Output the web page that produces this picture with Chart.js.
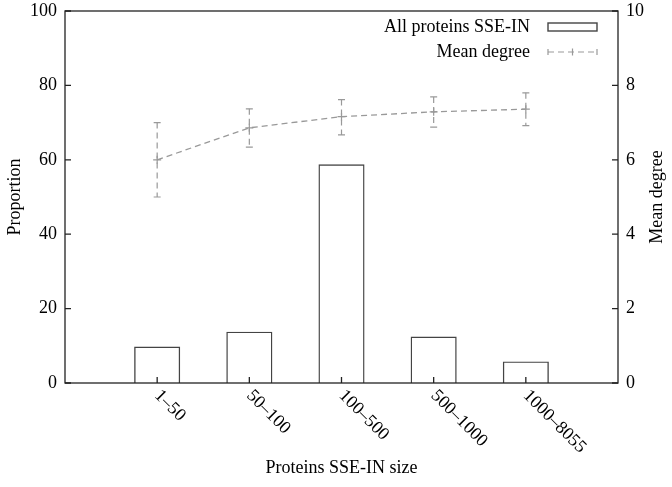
<!DOCTYPE html>
<html>
<head>
<meta charset="utf-8">
<script src="https://cdn.jsdelivr.net/npm/chart.js@4"></script>
<style>
  html, body { margin: 0; padding: 0; background: #fff; }
</style>
</head>
<body>
<canvas id="chart" width="672" height="487"></canvas>
<script>
const categories = ["1\u201350", "50\u2013100", "100\u2013500", "500\u20131000", "1000\u20138055"];
const proportion = [9.8, 13.8, 58.8, 12.5, 5.8];
const meanDegree = [6.0, 6.86, 7.16, 7.29, 7.36];
const degreeHigh = [7.0, 7.37, 7.62, 7.69, 7.80];
const degreeLow = [5.0, 6.34, 6.67, 6.88, 6.92];
const leftTicks = [0, 20, 40, 60, 80, 100];
const rightTicks = [0, 2, 4, 6, 8, 10];

const FONT = "Liberation Serif, Times New Roman, serif";
const AXIS = "#222";
const GREY = "#999";

// empty slots on both ends so the bars sit one step in from the frame
const labels = ["", ...categories, ""];
const pad = (arr) => [null, ...arr, null];

const extras = {
  id: "extras",
  afterDatasetsDraw(chart) {
    const ctx = chart.ctx;
    const a = chart.chartArea;
    const x = chart.scales.x;
    const yR = chart.scales.y2;
    const yL = chart.scales.y;

    ctx.save();
    // frame
    ctx.strokeStyle = AXIS;
    ctx.lineWidth = 1.3;
    ctx.strokeRect(a.left, a.top, a.right - a.left, a.bottom - a.top);

    // inward ticks
    ctx.beginPath();
    leftTicks.forEach(v => {
      const py = yL.getPixelForValue(v);
      ctx.moveTo(a.left, py); ctx.lineTo(a.left + 6, py);
    });
    rightTicks.forEach(v => {
      const py = yR.getPixelForValue(v);
      ctx.moveTo(a.right, py); ctx.lineTo(a.right - 6, py);
    });
    categories.forEach((c, i) => {
      const px = x.getPixelForValue(i + 1);
      ctx.moveTo(px, a.bottom); ctx.lineTo(px, a.bottom - 6);
    });
    ctx.stroke();

    // error bars
    ctx.strokeStyle = GREY;
    ctx.lineWidth = 1.2;
    meanDegree.forEach((m, i) => {
      const px = x.getPixelForValue(i + 1);
      const top = yR.getPixelForValue(degreeHigh[i]);
      const bot = yR.getPixelForValue(degreeLow[i]);
      ctx.setLineDash([6, 4]);
      ctx.beginPath();
      ctx.moveTo(px, top); ctx.lineTo(px, bot);
      ctx.stroke();
      ctx.setLineDash([]);
      ctx.beginPath();
      ctx.moveTo(px - 3.5, top); ctx.lineTo(px + 3.5, top);
      ctx.moveTo(px - 3.5, bot); ctx.lineTo(px + 3.5, bot);
      ctx.stroke();
    });

    // x tick labels, rotated clockwise
    ctx.fillStyle = "#000";
    ctx.font = "18px " + FONT;
    categories.forEach((c, i) => {
      const px = x.getPixelForValue(i + 1);
      ctx.save();
      ctx.translate(px, a.bottom + 10);
      ctx.rotate(Math.PI / 4);
      ctx.textAlign = "left";
      ctx.textBaseline = "middle";
      ctx.fillText(c, 0, 0);
      ctx.restore();
    });

    // axis titles
    ctx.textAlign = "center";
    ctx.textBaseline = "middle";
    ctx.fillText("Proteins SSE-IN size", (a.left + a.right) / 2, 468);
    const midY = (a.top + a.bottom) / 2;
    ctx.save();
    ctx.translate(15, midY);
    ctx.rotate(-Math.PI / 2);
    ctx.fillText("Proportion", 0, 0);
    ctx.restore();
    ctx.save();
    ctx.translate(657, midY);
    ctx.rotate(-Math.PI / 2);
    ctx.fillText("Mean degree", 0, 0);
    ctx.restore();

    // legend
    ctx.textAlign = "right";
    ctx.fillText("All proteins SSE-IN", 530, 27);
    ctx.fillText("Mean degree", 530, 52);
    ctx.strokeStyle = "#444";
    ctx.lineWidth = 1.4;
    ctx.strokeRect(548, 23, 49, 8);
    ctx.strokeStyle = GREY;
    ctx.lineWidth = 1.2;
    ctx.setLineDash([6, 4]);
    ctx.beginPath();
    ctx.moveTo(548, 52); ctx.lineTo(597, 52);
    ctx.stroke();
    ctx.setLineDash([]);
    ctx.beginPath();
    ctx.moveTo(548, 49); ctx.lineTo(548, 55);
    ctx.moveTo(597, 49); ctx.lineTo(597, 55);
    ctx.moveTo(572.5, 48.5); ctx.lineTo(572.5, 55.5);
    ctx.stroke();
    ctx.restore();
  }
};

const fitY = (w) => (s) => {
  s.width = w;
  s.paddingTop = 0;
  s.paddingBottom = 0;
};

new Chart(document.getElementById("chart"), {
  data: {
    labels: labels,
    datasets: [
      {
        type: "line",
        label: "Mean degree",
        data: pad(meanDegree),
        yAxisID: "y2",
        borderColor: GREY,
        borderWidth: 1.3,
        borderDash: [6, 4],
        pointStyle: "cross",
        pointRadius: 4,
        pointBorderColor: GREY,
        pointBorderWidth: 1.2,
        fill: false,
        tension: 0,
        order: 0
      },
      {
        type: "bar",
        label: "All proteins SSE-IN",
        data: pad(proportion),
        yAxisID: "y",
        backgroundColor: "rgba(255,255,255,0)",
        borderColor: "#444",
        borderWidth: 1.4,
        borderSkipped: "bottom",
        barPercentage: 0.5,
        categoryPercentage: 1,
        order: 1
      }
    ]
  },
  options: {
    responsive: false,
    animation: false,
    layout: { padding: { top: 11, left: 0, right: 0, bottom: 0 } },
    plugins: { legend: { display: false }, tooltip: { enabled: false } },
    scales: {
      x: {
        offset: false,
        grid: { display: false, drawTicks: false },
        border: { display: false },
        ticks: { display: false },
        afterFit: (s) => { s.height = 104; }
      },
      y: {
        position: "left",
        min: 0, max: 100,
        grid: { display: false, drawTicks: false },
        border: { display: false },
        ticks: {
          stepSize: 20, padding: 8, color: "#000",
          font: { family: FONT, size: 18 }
        },
        afterFit: fitY(65)
      },
      y2: {
        position: "right",
        min: 0, max: 10,
        grid: { display: false, drawTicks: false },
        border: { display: false },
        ticks: {
          stepSize: 2, padding: 8, color: "#000",
          font: { family: FONT, size: 18 }
        },
        afterFit: fitY(54)
      }
    }
  },
  plugins: [extras]
});
</script>
</body>
</html>
